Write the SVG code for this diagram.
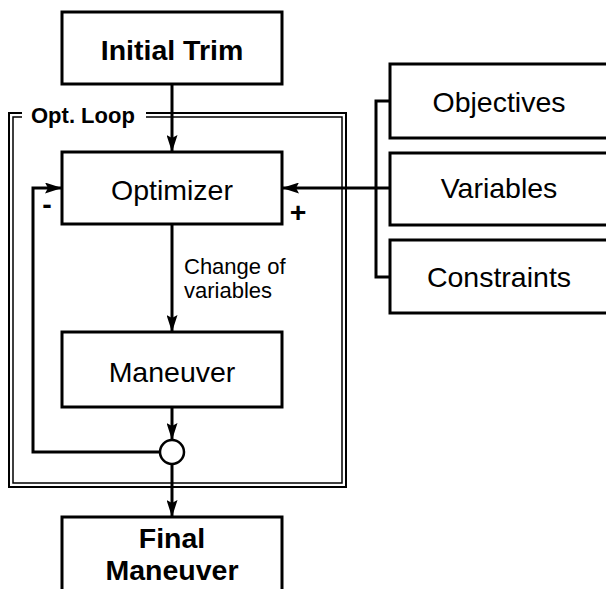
<svg xmlns="http://www.w3.org/2000/svg" width="606" height="589" viewBox="0 0 606 589">
<defs>
<style>
.box{fill:#fff;stroke:#000;stroke-width:3}
.ln{fill:none;stroke:#000;stroke-width:3}
.t{font-family:"Liberation Sans",Arial,sans-serif;font-size:28.5px;text-anchor:middle;fill:#000}
.b{font-weight:bold}
.s{font-family:"Liberation Sans",Arial,sans-serif;font-size:22px;fill:#000}
</style>
<marker id="ah" markerWidth="17" markerHeight="11" refX="16" refY="5.5" orient="auto" markerUnits="userSpaceOnUse">
<path d="M0,0 L17,5.5 L0,11 L3,5.5 Z" fill="#000"/>
</marker>
</defs>
<rect width="606" height="589" fill="#fff"/>
<g id="frame">
<rect x="9" y="113" width="337" height="374" fill="none" stroke="#000" stroke-width="2"/>
<rect x="13" y="117" width="329" height="366" fill="none" stroke="#000" stroke-width="1.5"/>
<rect x="22" y="105" width="124" height="20" fill="#fff"/>
<text x="31" y="123" class="t b" style="font-size:22px;text-anchor:start">Opt. Loop</text>
</g>
<g id="connectors">
<line x1="172" y1="84" x2="172" y2="151" class="ln" marker-end="url(#ah)"/>
<line x1="172" y1="224" x2="172" y2="331" class="ln" marker-end="url(#ah)"/>
<line x1="172" y1="407" x2="172" y2="439" class="ln" marker-end="url(#ah)"/>
<line x1="172" y1="464" x2="172" y2="516" class="ln" marker-end="url(#ah)"/>
<polyline points="160,452 33,452 33,188 61,188" class="ln" marker-end="url(#ah)"/>
<line x1="390" y1="188" x2="283" y2="188" class="ln" marker-end="url(#ah)"/>
<polyline points="390,101 376,101 376,277 390,277" class="ln"/>
<text x="184" y="274" class="s">Change of</text>
<text x="184" y="298" class="s">variables</text>
<text x="47" y="214" class="t b">-</text>
<text x="298" y="222" class="t b">+</text>
</g>
<g id="initial-trim">
<rect x="62" y="12" width="220" height="72" class="box"/>
<text x="172" y="60" class="t b">Initial Trim</text>
</g>
<g id="optimizer">
<rect x="62" y="152" width="220" height="72" class="box"/>
<text x="172" y="200" class="t">Optimizer</text>
</g>
<g id="maneuver">
<rect x="62" y="332" width="220" height="75" class="box"/>
<text x="172" y="382" class="t">Maneuver</text>
</g>
<g id="sum">
<circle cx="172" cy="452" r="12" fill="#fff" stroke="#000" stroke-width="2.5"/>
</g>
<g id="final-maneuver">
<rect x="62" y="517" width="220" height="90" class="box"/>
<text x="172" y="548" class="t b">Final</text>
<text x="172" y="580" class="t b">Maneuver</text>
</g>
<g id="objectives">
<rect x="390" y="64" width="220" height="74" class="box"/>
<text x="499" y="112" class="t">Objectives</text>
</g>
<g id="variables">
<rect x="390" y="153" width="220" height="72" class="box"/>
<text x="499" y="198" class="t">Variables</text>
</g>
<g id="constraints">
<rect x="390" y="240" width="220" height="73" class="box"/>
<text x="499" y="287" class="t">Constraints</text>
</g>
</svg>
